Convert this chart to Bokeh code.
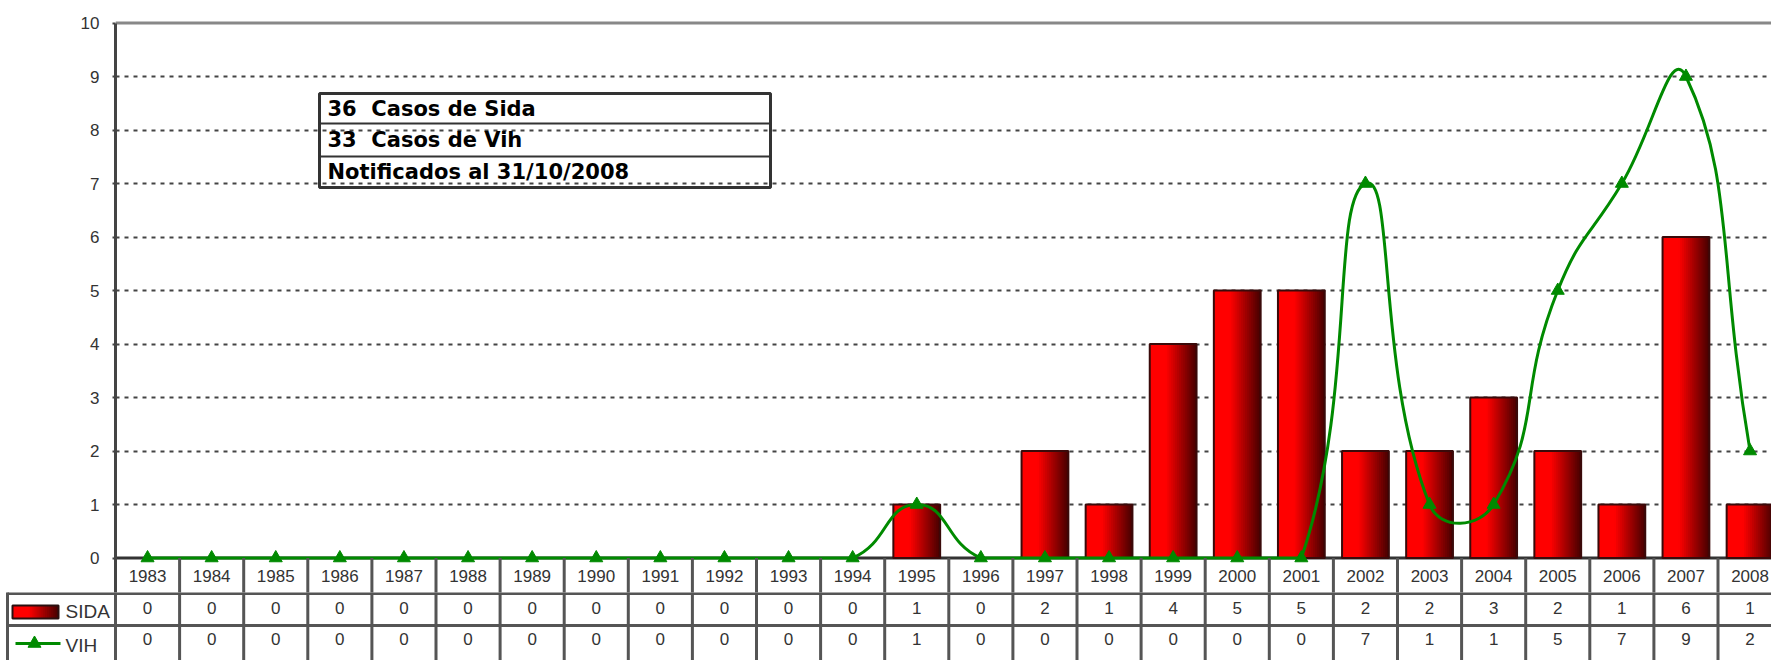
import numpy as np
from bokeh.plotting import figure
from bokeh.layouts import column
from bokeh.models import Range1d, FixedTicker, Span
from bokeh.core.properties import value
from bokeh.embed import file_html
from bokeh.resources import INLINE

# ---------------- data ----------------
years = list(range(1983, 2009))
year_labels = [str(y) for y in years]
sida = [0, 0, 0, 0, 0, 0, 0, 0, 0, 0, 0, 0, 1, 0, 2, 1, 4, 5, 5, 2, 2, 3, 2, 1, 6, 1]
vih = [0, 0, 0, 0, 0, 0, 0, 0, 0, 0, 0, 0, 1, 0, 0, 0, 0, 0, 0, 7, 1, 1, 5, 7, 9, 2]
series_names = ["SIDA", "VIH"]
note_lines = ["36  Casos de Sida", "33  Casos de Vih", "Notificados al 31/10/2008"]
y_ticks = list(range(0, 11))

# ---------------- layout constants ----------------
W = 1771
LEFT = 115
X_PX = 64.1          # px per year
Y_PX = 53.5          # px per unit
Y0_PX = 557.5        # screen row of value 0
TOP_H = 592
BOT_H = 68
ROW_PX = 32.0
x0 = 1982.5
x1 = x0 + (W - LEFT) / X_PX
y_top = (Y0_PX) / Y_PX
y_bot = -(TOP_H - Y0_PX) / Y_PX

FONT = value("Liberation Sans")
GRID_C = "#444444"
TABLE_C = "#555555"
GREEN = "#008a00"
BW = 0.73
NS = 24


def grad(t):
    r = 255 if t < 0.35 else int(255 - 185 * ((t - 0.35) / 0.65))
    return "#%02x0000" % r


strip_cols = [grad((i + 0.5) / NS) for i in range(NS)]

# ---------------- top figure ----------------
p = figure(width=W, height=TOP_H, x_range=Range1d(x0, x1), y_range=Range1d(y_bot, y_top),
           output_backend="svg", toolbar_location=None, x_axis_type=None,
           min_border_left=LEFT, min_border_right=0, min_border_top=0, min_border_bottom=0)
p.outline_line_color = None
p.background_fill_color = "white"
p.frame_align = False

ax = p.yaxis[0]
ax.ticker = FixedTicker(ticks=y_ticks)
ax.bounds = (y_bot, 10)
ax.axis_line_color = "#444444"
ax.axis_line_width = 3
ax.major_tick_out = 3
ax.major_tick_in = 0
ax.major_tick_line_color = "#444444"
ax.major_tick_line_width = 2
ax.minor_tick_out = 0
ax.minor_tick_in = 0
ax.major_label_standoff = 13
ax.major_label_text_font = "Liberation Sans"
ax.major_label_text_font_size = "17px"
ax.major_label_text_color = "#333333"

g = p.ygrid[0]
g.ticker = FixedTicker(ticks=list(range(1, 10)))
g.grid_line_color = GRID_C
g.grid_line_width = 2
g.grid_line_dash = "4 5"

p.add_layout(Span(location=10, dimension="width", line_color="#888888", line_width=3, level="underlay"))
p.add_layout(Span(location=0, dimension="width", line_color="#333333", line_width=3, level="underlay"))

# bars with horizontal gradient (overlapping strips, left to right)
sl, sr, st, sc = [], [], [], []
for yr, v in zip(years, sida):
    if v <= 0:
        continue
    for i in range(NS):
        sl.append(yr - BW / 2 + i * BW / NS)
        sr.append(yr + BW / 2)
        st.append(v)
        sc.append(strip_cols[i])
p.quad(left=sl, right=sr, top=st, bottom=0, fill_color=sc, line_color=None)
bx = [yr for yr, v in zip(years, sida) if v > 0]
bt = [v for v in sida if v > 0]
p.vbar(x=bx, top=bt, bottom=0, width=BW, fill_color=None, line_color="#3a0a0a", line_width=2)

# smoothed VIH line (Excel-like bezier smoothing, kept inside the plot area)
xs = np.array(years, float)
ys = np.array(vih, float)
n = len(xs)
tension = 0.5
bz = dict(x0=[], y0=[], x1=[], y1=[], cx0=[], cy0=[], cx1=[], cy1=[])


def dist(a, b):
    return np.hypot((xs[a] - xs[b]) * X_PX, (ys[a] - ys[b]) * Y_PX)


for i in range(n - 1):
    i0, i1, i2, i3 = max(i - 1, 0), i, i + 1, min(i + 2, n - 1)
    d01, d12, d23 = dist(i0, i1), dist(i1, i2), dist(i2, i3)
    f = tension * d12 / (d01 + d12) if d01 + d12 > 0 else 0
    gg = tension * d12 / (d12 + d23) if d12 + d23 > 0 else 0
    bz["x0"].append(xs[i1]); bz["y0"].append(ys[i1])
    bz["x1"].append(xs[i2]); bz["y1"].append(ys[i2])
    bz["cx0"].append(xs[i1] + f * (xs[i2] - xs[i0]))
    bz["cy0"].append(max(0.0, ys[i1] + f * (ys[i2] - ys[i0])))
    bz["cx1"].append(xs[i2] - gg * (xs[i3] - xs[i1]))
    bz["cy1"].append(max(0.0, ys[i2] - gg * (ys[i3] - ys[i1])))
p.bezier(**bz, line_color=GREEN, line_width=3, line_cap="round")
p.scatter(x=years, y=vih, marker="triangle", size=13, fill_color=GREEN, line_color=GREEN)

# category label row
cat_y = -17.5 / Y_PX
p.text(x=years, y=[cat_y] * n, text=year_labels, text_align="center", text_baseline="middle",
       text_font=FONT, text_font_size="17px", text_color="#333333")
p.segment(x0=[yr + 0.5 for yr in years], y0=[0] * n, x1=[yr + 0.5 for yr in years], y1=[y_bot] * n,
          line_color=TABLE_C, line_width=3)

# note box
bxl = x0 + (319 - 115) / X_PX
bxr = x0 + (770 - 115) / X_PX
rows_px = [93, 123, 156, 187]
rows_v = [(Y0_PX - r) / Y_PX for r in rows_px]
p.quad(left=[bxl], right=[bxr], top=[rows_v[0]], bottom=[rows_v[3]], fill_color=None,
       line_color="#333333", line_width=3)
p.segment(x0=[bxl, bxl], x1=[bxr, bxr], y0=rows_v[1:3], y1=rows_v[1:3], line_color="#333333", line_width=2)
p.text(x=[bxl + 8 / X_PX] * 3, y=[(rows_v[k] + rows_v[k + 1]) / 2 for k in range(3)],
       text=[t.replace("  ", "\u00a0 ") for t in note_lines],
       text_align="left", text_baseline="middle", text_font=value("DejaVu Sans"),
       text_font_style="bold", text_font_size="21px", text_color="black")

# ---------------- bottom (data table) ----------------
xl = x0 - LEFT / X_PX
p2 = figure(width=W, height=BOT_H, x_range=Range1d(xl, x1),
            y_range=Range1d(-(BOT_H - 1) / ROW_PX, 1 / ROW_PX),
            output_backend="svg", toolbar_location=None, x_axis_type=None, y_axis_type=None,
            min_border_left=0, min_border_right=0, min_border_top=0, min_border_bottom=0)
p2.outline_line_color = None
p2.frame_align = False

bl = x0 + (7 - 115) / X_PX
p2.segment(x0=[bl, bl], x1=[x1 + 1, x1 + 1], y0=[0, -1], y1=[0, -1], line_color=TABLE_C, line_width=3)
vx = [bl] + [yr - 0.5 for yr in years] + [years[-1] + 0.5]
p2.segment(x0=vx, x1=vx, y0=[0.1] * len(vx), y1=[-3] * len(vx), line_color=TABLE_C, line_width=3)

p2.text(x=years, y=[-14 / ROW_PX] * n, text=[str(v) for v in sida], text_align="center",
        text_baseline="middle", text_font=FONT, text_font_size="17px", text_color="#333333")
p2.text(x=years, y=[-45 / ROW_PX] * n, text=[str(v) for v in vih], text_align="center",
        text_baseline="middle", text_font=FONT, text_font_size="17px", text_color="#333333")

hx = x0 + (65 - 115) / X_PX
p2.text(x=[hx, hx], y=[-18 / ROW_PX, -52 / ROW_PX], text=series_names, text_align="left",
        text_baseline="middle", text_font=FONT, text_font_size="19px", text_color="#333333")

# legend swatches
swl = x0 + (12 - 115) / X_PX
swr = x0 + (58 - 115) / X_PX
sww = (swr - swl) / NS
p2.quad(left=[swl + i * sww for i in range(NS)], right=[swr] * NS,
        top=[-12 / ROW_PX] * NS, bottom=[-25 / ROW_PX] * NS, fill_color=strip_cols, line_color=None)
p2.quad(left=[swl], right=[swr], top=[-12 / ROW_PX], bottom=[-25 / ROW_PX], fill_color=None,
        line_color="#2a1010", line_width=2)
ly = -50 / ROW_PX
p2.segment(x0=[x0 + (15 - 115) / X_PX], x1=[x0 + (60 - 115) / X_PX], y0=[ly], y1=[ly],
           line_color=GREEN, line_width=3)
p2.scatter(x=[x0 + (34 - 115) / X_PX], y=[ly], marker="triangle", size=13, fill_color=GREEN, line_color=GREEN)

layout = column(p, p2, spacing=0)
open("out.html", "w").write(file_html(layout, INLINE))
